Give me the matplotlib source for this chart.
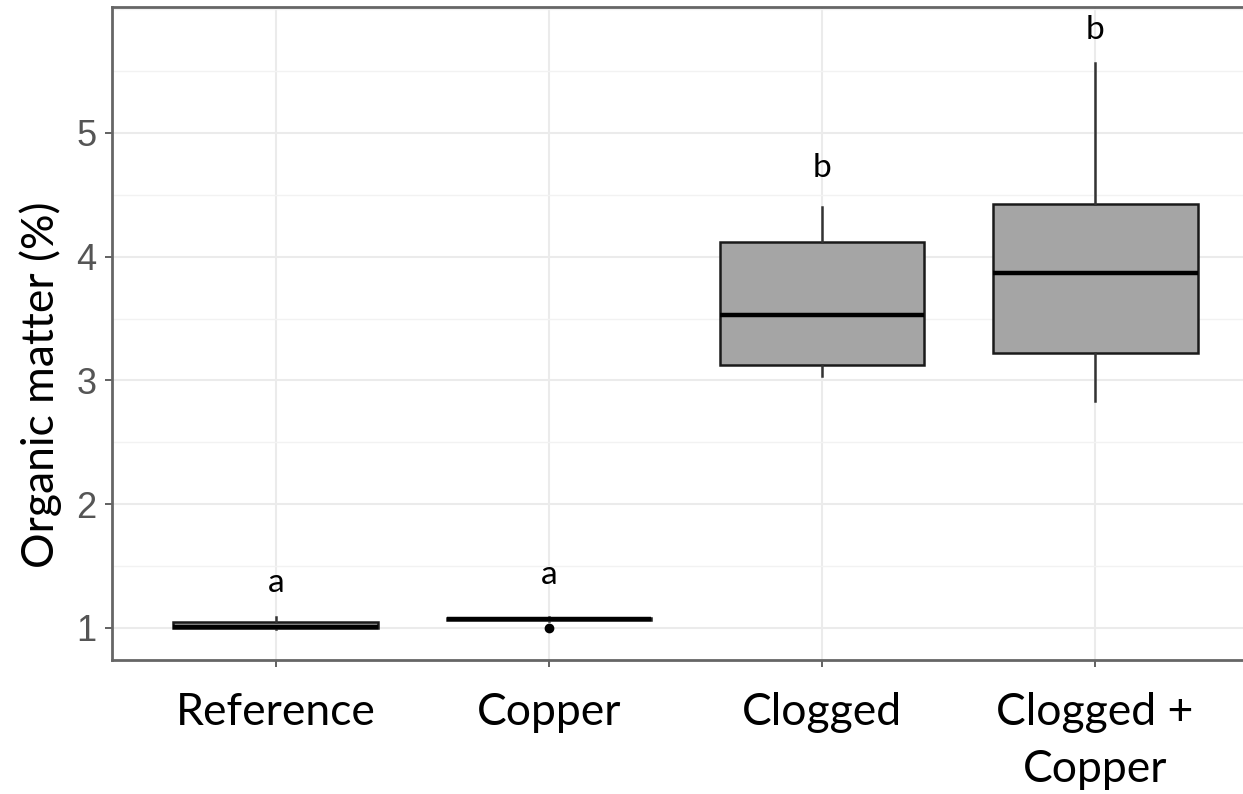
import matplotlib
matplotlib.use("Agg")
import matplotlib.pyplot as plt
from matplotlib.ticker import MultipleLocator

categories = ["Reference", "Copper", "Clogged", "Clogged +\nCopper"]
q1 = [1.00, 1.062, 3.125, 3.22]
median = [1.01, 1.07, 3.53, 3.866]
q3 = [1.05, 1.078, 4.122, 4.426]
whisker_low = [0.99, 1.06, 3.036, 2.83]
whisker_high = [1.09, 1.09, 4.405, 5.566]
outliers = [[], [1.0], [], []]
letters = ["a", "a", "b", "b"]
letter_y = [1.36, 1.43, 4.72, 5.83]

fig = plt.figure(figsize=(12.43, 7.94), dpi=100)
W, H = 1243, 794
left_px, right_px, top_px, bottom_px = 112, 1259, 7, 660
ax = fig.add_axes([left_px / W, 1 - bottom_px / H,
                   (right_px - left_px) / W, (bottom_px - top_px) / H])

stats = []
for i in range(len(categories)):
    stats.append(dict(q1=q1[i], med=median[i], q3=q3[i],
                      whislo=whisker_low[i], whishi=whisker_high[i],
                      fliers=outliers[i], label=categories[i]))

positions = list(range(1, len(categories) + 1))
ax.bxp(stats, positions=positions, widths=0.75, patch_artist=True,
       showcaps=False,
       boxprops=dict(facecolor="#A5A5A5", edgecolor="#1a1a1a", linewidth=1.8),
       medianprops=dict(color="#000000", linewidth=3.2),
       whiskerprops=dict(color="#333333", linewidth=1.8),
       flierprops=dict(marker="o", markerfacecolor="#000000",
                       markeredgecolor="#000000", markersize=6),
       zorder=3)

for x, lab, y in zip(positions, letters, letter_y):
    ax.text(x, y, lab, ha="center", va="center", fontsize=24,
            family="Lato", color="#000000")

ax.set_xlim(0.4, 4.6)
ax.set_ylim(0.741, 6.018)
ax.yaxis.set_major_locator(MultipleLocator(1))
ax.yaxis.set_minor_locator(MultipleLocator(0.5))
ax.set_yticks([1, 2, 3, 4, 5])
ax.set_xticks(positions)
ax.set_xticklabels(categories, family="Lato", fontsize=32, color="#000000",
                   linespacing=1.5)
ax.set_yticklabels(["1", "2", "3", "4", "5"], family="Liberation Sans",
                   fontsize=26, color="#555555")

ax.grid(which="major", color="#EBEBEB", linewidth=1.5, zorder=0)
ax.grid(which="minor", axis="y", color="#F2F2F2", linewidth=1.0, zorder=0)
ax.set_axisbelow(True)
ax.tick_params(axis="both", which="major", length=5, width=1.3,
               color="#555555", pad=6)
ax.tick_params(axis="y", which="minor", length=0)
ax.tick_params(axis="x", pad=18)

for s in ax.spines.values():
    s.set_color("#666666")
    s.set_linewidth(2.0)

ax.set_ylabel("Organic matter (%)", family="Lato", fontsize=32,
              color="#000000")
ax.yaxis.set_label_coords(-50 / (right_px - left_px), (660 - 385) / (660 - 7))

fig.savefig("out.png", dpi=100)
